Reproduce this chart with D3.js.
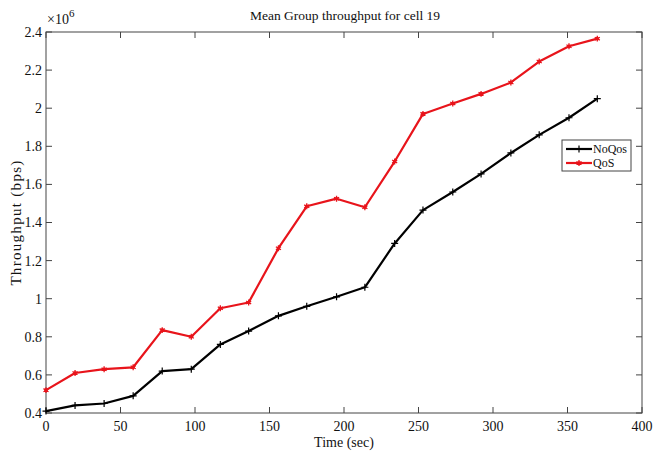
<!DOCTYPE html>
<html>
<head>
<meta charset="utf-8">
<script src="https://cdn.jsdelivr.net/npm/d3@7"></script>
<style>
  body { margin: 0; background: #fff; }
  text { font-family: "Liberation Serif", "DejaVu Serif", serif; fill: #111; }
</style>
</head>
<body>
<svg id="chart" width="661" height="452"></svg>
<script>
const timeSec = [0, 19.5, 39, 58.5, 78, 97.5, 117, 136, 156, 175, 195, 214, 234, 253, 273, 292, 312, 331, 351, 370];
const noQos = [0.41, 0.44, 0.45, 0.49, 0.62, 0.63, 0.76, 0.83, 0.91, 0.96, 1.01, 1.06, 1.29, 1.465, 1.56, 1.655, 1.765, 1.86, 1.95, 2.05];
const qos = [0.52, 0.61, 0.63, 0.64, 0.835, 0.80, 0.95, 0.98, 1.265, 1.485, 1.525, 1.48, 1.72, 1.97, 2.025, 2.075, 2.135, 2.245, 2.325, 2.365];
const xTicks = [0, 50, 100, 150, 200, 250, 300, 350, 400];
const yTicks = [0.4, 0.6, 0.8, 1, 1.2, 1.4, 1.6, 1.8, 2, 2.2, 2.4];

const margin = { top: 32, right: 19, bottom: 39, left: 46 };
const width = 661 - margin.left - margin.right;
const height = 452 - margin.top - margin.bottom;

const svg = d3.select("#chart");
const g = svg.append("g").attr("transform", `translate(${margin.left},${margin.top})`);

const x = d3.scaleLinear().domain([0, 400]).range([0, width]);
const y = d3.scaleLinear().domain([0.4, 2.4]).range([height, 0]);

const axisColor = "#444";
const tickLen = 6;

// box
g.append("rect").attr("width", width).attr("height", height)
  .attr("fill", "none").attr("stroke", axisColor).attr("stroke-width", 1);

// ticks all four sides, pointing inward
g.selectAll(".xt").data(xTicks).join("g").each(function (d) {
  const s = d3.select(this);
  s.append("line").attr("x1", x(d)).attr("x2", x(d)).attr("y1", height).attr("y2", height - tickLen).attr("stroke", axisColor);
  s.append("line").attr("x1", x(d)).attr("x2", x(d)).attr("y1", 0).attr("y2", tickLen).attr("stroke", axisColor);
  s.append("text").attr("x", x(d)).attr("y", height + 18).attr("text-anchor", "middle")
    .attr("font-size", 14).text(d);
});

g.selectAll(".yt").data(yTicks).join("g").each(function (d) {
  const s = d3.select(this);
  s.append("line").attr("x1", 0).attr("x2", tickLen).attr("y1", y(d)).attr("y2", y(d)).attr("stroke", axisColor);
  s.append("line").attr("x1", width).attr("x2", width - tickLen).attr("y1", y(d)).attr("y2", y(d)).attr("stroke", axisColor);
  s.append("text").attr("x", -4).attr("y", y(d)).attr("dy", "0.35em").attr("text-anchor", "end")
    .attr("font-size", 14).text(d3.format("~g")(d));
});

// exponent
const ex = svg.append("text").attr("x", margin.left + 1).attr("y", 24).attr("font-size", 14);
ex.append("tspan").text("\u00d710");
ex.append("tspan").attr("dy", -7).attr("font-size", 11).text("6");

// title + labels
svg.append("text").attr("x", 345).attr("y", 20).attr("text-anchor", "middle").attr("font-size", 13.5)
  .text("Mean Group throughput for cell 19");
svg.append("text").attr("x", 344).attr("y", 447).attr("text-anchor", "middle").attr("font-size", 14)
  .text("Time (sec)");
svg.append("text").attr("transform", `translate(21,${margin.top + height / 2}) rotate(-90)`)
  .attr("text-anchor", "middle").attr("font-size", 15)
  .attr("letter-spacing", 1.3).text("Throughput (bps)");

const series = [
  { name: "NoQos", values: noQos, color: "#000", marker: "plus" },
  { name: "QoS", values: qos, color: "#e8141b", marker: "star" }
];

const line = d3.line().x((d, i) => x(timeSec[i])).y(d => y(d));

function drawMarker(sel, type, color) {
  if (type === "plus") {
    sel.append("path").attr("d", "M-3.5,0H3.5M0,-3.5V3.5").attr("stroke", color).attr("stroke-width", 1.2);
  } else {
    sel.append("path").attr("d", d3.symbol(d3.symbolAsterisk, 24)()).attr("stroke", color).attr("stroke-width", 1.3).attr("fill", "none");
    sel.append("circle").attr("r", 1.8).attr("fill", color);
  }
}

series.forEach(s => {
  g.append("path").datum(s.values).attr("d", line)
    .attr("fill", "none").attr("stroke", s.color).attr("stroke-width", 2.2).attr("stroke-linejoin", "round");
  g.selectAll(null).data(s.values).join("g")
    .attr("transform", (d, i) => `translate(${x(timeSec[i])},${y(d)})`)
    .each(function () { drawMarker(d3.select(this), s.marker, s.color); });
});

// legend
const lg = svg.append("g").attr("transform", "translate(562,140)");
lg.append("rect").attr("width", 69).attr("height", 31).attr("fill", "#fff").attr("stroke", axisColor);
series.forEach((s, i) => {
  const row = lg.append("g").attr("transform", `translate(0,${9 + i * 14})`);
  row.append("line").attr("x1", 4).attr("x2", 30).attr("stroke", s.color).attr("stroke-width", 2.2);
  drawMarker(row.append("g").attr("transform", "translate(17,0)"), s.marker, s.color);
  row.append("text").attr("x", 31).attr("dy", "0.32em").attr("font-size", 12).text(s.name);
});
</script>
</body>
</html>
